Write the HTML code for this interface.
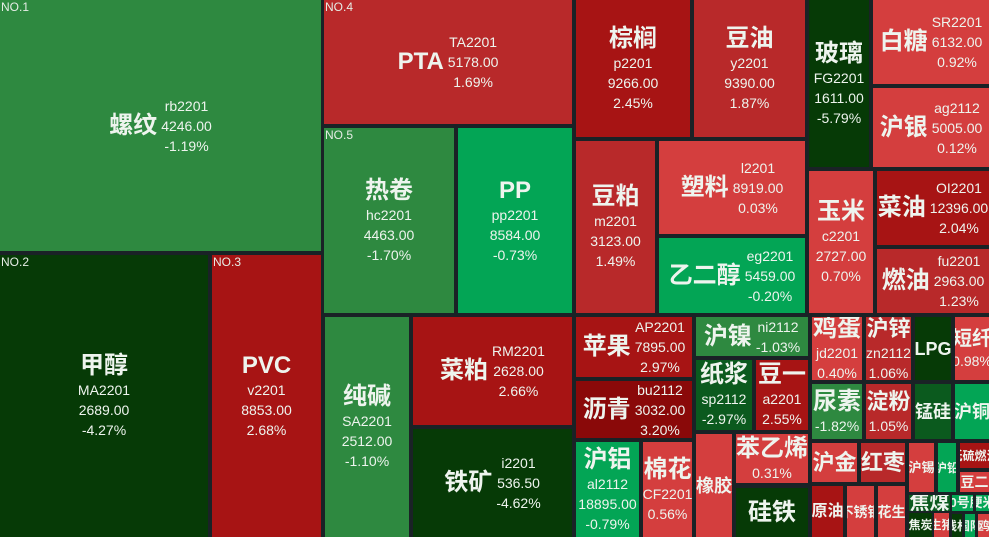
<!DOCTYPE html>
<html><head><meta charset="utf-8">
<style>
html,body{margin:0;padding:0}
body{background:#1a2226;width:989px;height:537px;overflow:hidden;position:relative;font-family:"Liberation Sans","Noto Sans CJK SC",sans-serif;color:#eef4ee}
.c{position:absolute;overflow:hidden;display:flex;align-items:center;justify-content:center;white-space:nowrap}
.v{flex-direction:column}
.n{font-weight:bold;font-size:24px;line-height:28px;font-family:"Liberation Sans","Noto Sans CJK SC",sans-serif}
.i{font-size:14px;line-height:20px;text-align:center}
.h .n{margin-right:4px}
.no{position:absolute;left:1px;top:0;font-size:12px;line-height:14px;color:#e6ede6}
.G1{background:#2e8940}
.G2{background:#03a555}
.G3{background:#063a06}
.G4{background:#0b5a1e}
.R1{background:#d43e3e}
.R2{background:#b8292a}
.R3{background:#a71414}
.R4{background:#8a0909}
</style></head><body>

<div class="c h G1" style="left:0;top:0;width:321px;height:251px"><span class="no">NO.1</span><div class="n">螺纹</div><div class="i">rb2201<br>4246.00<br>-1.19%</div></div>
<div class="c v G3" style="left:0;top:255px;width:208px;height:282px"><span class="no">NO.2</span><div class="n">甲醇</div><div class="i">MA2201<br>2689.00<br>-4.27%</div></div>
<div class="c v R3" style="left:212px;top:255px;width:109px;height:282px"><span class="no">NO.3</span><div class="n">PVC</div><div class="i">v2201<br>8853.00<br>2.68%</div></div>
<div class="c h R2" style="left:324px;top:0;width:248px;height:124px"><span class="no">NO.4</span><div class="n">PTA</div><div class="i">TA2201<br>5178.00<br>1.69%</div></div>
<div class="c v G1" style="left:324px;top:128px;width:130px;height:185px"><span class="no">NO.5</span><div class="n">热卷</div><div class="i">hc2201<br>4463.00<br>-1.70%</div></div>
<div class="c v G2" style="left:458px;top:128px;width:114px;height:185px"><div class="n">PP</div><div class="i">pp2201<br>8584.00<br>-0.73%</div></div>
<div class="c v G1" style="left:325px;top:317px;width:84px;height:220px"><div class="n">纯碱</div><div class="i">SA2201<br>2512.00<br>-1.10%</div></div>
<div class="c h R3" style="left:413px;top:317px;width:159px;height:108px"><div class="n">菜粕</div><div class="i">RM2201<br>2628.00<br>2.66%</div></div>
<div class="c h G3" style="left:413px;top:429px;width:159px;height:108px"><div class="n">铁矿</div><div class="i">i2201<br>536.50<br>-4.62%</div></div>

<div class="c v R3" style="left:576px;top:0;width:114px;height:137px"><div class="n">棕榈</div><div class="i">p2201<br>9266.00<br>2.45%</div></div>
<div class="c v R2" style="left:694px;top:0;width:111px;height:137px"><div class="n">豆油</div><div class="i">y2201<br>9390.00<br>1.87%</div></div>
<div class="c v G3" style="left:809px;top:0;width:60px;height:167px"><div class="n">玻璃</div><div class="i">FG2201<br>1611.00<br>-5.79%</div></div>
<div class="c h R1" style="left:873px;top:0;width:116px;height:84px"><div class="n">白糖</div><div class="i">SR2201<br>6132.00<br>0.92%</div></div>
<div class="c h R1" style="left:873px;top:88px;width:116px;height:79px"><div class="n">沪银</div><div class="i">ag2112<br>5005.00<br>0.12%</div></div>
<div class="c v R2" style="left:576px;top:141px;width:79px;height:172px"><div class="n">豆粕</div><div class="i">m2201<br>3123.00<br>1.49%</div></div>
<div class="c h R1" style="left:659px;top:141px;width:146px;height:93px"><div class="n">塑料</div><div class="i">l2201<br>8919.00<br>0.03%</div></div>
<div class="c h G2" style="left:659px;top:238px;width:146px;height:75px"><div class="n">乙二醇</div><div class="i">eg2201<br>5459.00<br>-0.20%</div></div>
<div class="c v R1" style="left:809px;top:171px;width:64px;height:142px"><div class="n">玉米</div><div class="i">c2201<br>2727.00<br>0.70%</div></div>
<div class="c h R3" style="left:877px;top:171px;width:112px;height:74px"><div class="n">菜油</div><div class="i">OI2201<br>12396.00<br>2.04%</div></div>
<div class="c h R2" style="left:877px;top:249px;width:112px;height:64px"><div class="n">燃油</div><div class="i">fu2201<br>2963.00<br>1.23%</div></div>

<div class="c h R3" style="left:576px;top:317px;width:116px;height:60px"><div class="n">苹果</div><div class="i">AP2201<br>7895.00<br>2.97%</div></div>
<div class="c h R4" style="left:576px;top:381px;width:116px;height:57px"><div class="n">沥青</div><div class="i">bu2112<br>3032.00<br>3.20%</div></div>
<div class="c v G2" style="left:576px;top:442px;width:63px;height:95px"><div class="n">沪铝</div><div class="i">al2112<br>18895.00<br>-0.79%</div></div>
<div class="c v R1" style="left:643px;top:442px;width:49px;height:95px"><div class="n">棉花</div><div class="i">CF2201<br>0.56%</div></div>
<div class="c h G1" style="left:696px;top:317px;width:112px;height:39px"><div class="n">沪镍</div><div class="i">ni2112<br>-1.03%</div></div>
<div class="c v G4" style="left:696px;top:360px;width:56px;height:70px"><div class="n">纸浆</div><div class="i">sp2112<br>-2.97%</div></div>
<div class="c v R3" style="left:756px;top:360px;width:52px;height:70px"><div class="n">豆一</div><div class="i">a2201<br>2.55%</div></div>
<div class="c R1" style="left:696px;top:434px;width:36px;height:103px"><div class="n" style="font-size:18px">橡胶</div></div>
<div class="c v R1" style="left:736px;top:434px;width:72px;height:49px"><div class="n">苯乙烯</div><div class="i">0.31%</div></div>
<div class="c G3" style="left:736px;top:488px;width:72px;height:49px"><div class="n">硅铁</div></div>

<div class="c v R1" style="left:812px;top:317px;width:50px;height:63px"><div class="n">鸡蛋</div><div class="i">jd2201<br>0.40%</div></div>
<div class="c v R2" style="left:866px;top:317px;width:45px;height:63px"><div class="n" style="font-size:22px">沪锌</div><div class="i">zn2112<br>1.06%</div></div>
<div class="c G3" style="left:915px;top:317px;width:36px;height:63px"><div class="n" style="font-size:18px">LPG</div></div>
<div class="c v R1" style="left:955px;top:317px;width:34px;height:63px"><div class="n" style="font-size:20px;line-height:24px">短纤</div><div class="i">0.98%</div></div>
<div class="c v G1" style="left:812px;top:384px;width:50px;height:55px"><div class="n">尿素</div><div class="i">-1.82%</div></div>
<div class="c v R2" style="left:866px;top:384px;width:45px;height:55px"><div class="n" style="font-size:22px">淀粉</div><div class="i">1.05%</div></div>
<div class="c G4" style="left:915px;top:384px;width:36px;height:55px"><div class="n" style="font-size:18px">锰硅</div></div>
<div class="c G2" style="left:955px;top:384px;width:34px;height:55px"><div class="n" style="font-size:18px">沪铜</div></div>

<div class="c R1" style="left:812px;top:443px;width:45px;height:39px"><div class="n" style="font-size:22px">沪金</div></div>
<div class="c R2" style="left:861px;top:443px;width:44px;height:39px"><div class="n" style="font-size:22px">红枣</div></div>
<div class="c R3" style="left:812px;top:486px;width:31px;height:51px"><div class="n" style="font-size:16px">原油</div></div>
<div class="c R1" style="left:847px;top:486px;width:27px;height:51px"><div class="n" style="font-size:14px">不锈钢</div></div>
<div class="c R1" style="left:878px;top:486px;width:27px;height:51px"><div class="n" style="font-size:14px">花生</div></div>
<div class="c R1" style="left:909px;top:443px;width:25px;height:49px"><div class="n" style="font-size:13px">沪锡</div></div>
<div class="c G2" style="left:938px;top:443px;width:18px;height:49px"><div class="n" style="font-size:12px">沪铅</div></div>
<div class="c R3" style="left:960px;top:443px;width:29px;height:25px"><div class="n" style="font-size:12px">低硫燃油</div></div>
<div class="c R1" style="left:960px;top:472px;width:29px;height:20px"><div class="n" style="font-size:14px">豆二</div></div>
<div class="c G4" style="left:909px;top:495px;width:41px;height:16px"><div class="n" style="font-size:20px;line-height:20px">焦煤</div></div>
<div class="c G2" style="left:952px;top:495px;width:21px;height:16px"><div class="n" style="font-size:13px">20号胶</div></div>
<div class="c G2" style="left:976px;top:495px;width:13px;height:16px"><div class="n" style="font-size:13px">粳米</div></div>
<div class="c G3" style="left:909px;top:513px;width:23px;height:24px"><div class="n" style="font-size:12px">焦炭</div></div>
<div class="c R1" style="left:934px;top:513px;width:15px;height:24px"><div class="n" style="font-size:12px">生猪</div></div>
<div class="c G3" style="left:952px;top:514px;width:10px;height:23px"><div class="n" style="font-size:12px">线材</div></div>
<div class="c G2" style="left:965px;top:514px;width:10px;height:23px"><div class="n" style="font-size:12px">国际</div></div>
<div class="c R1" style="left:978px;top:514px;width:11px;height:23px"><div class="n" style="font-size:12px">鸥</div></div>

</body></html>
